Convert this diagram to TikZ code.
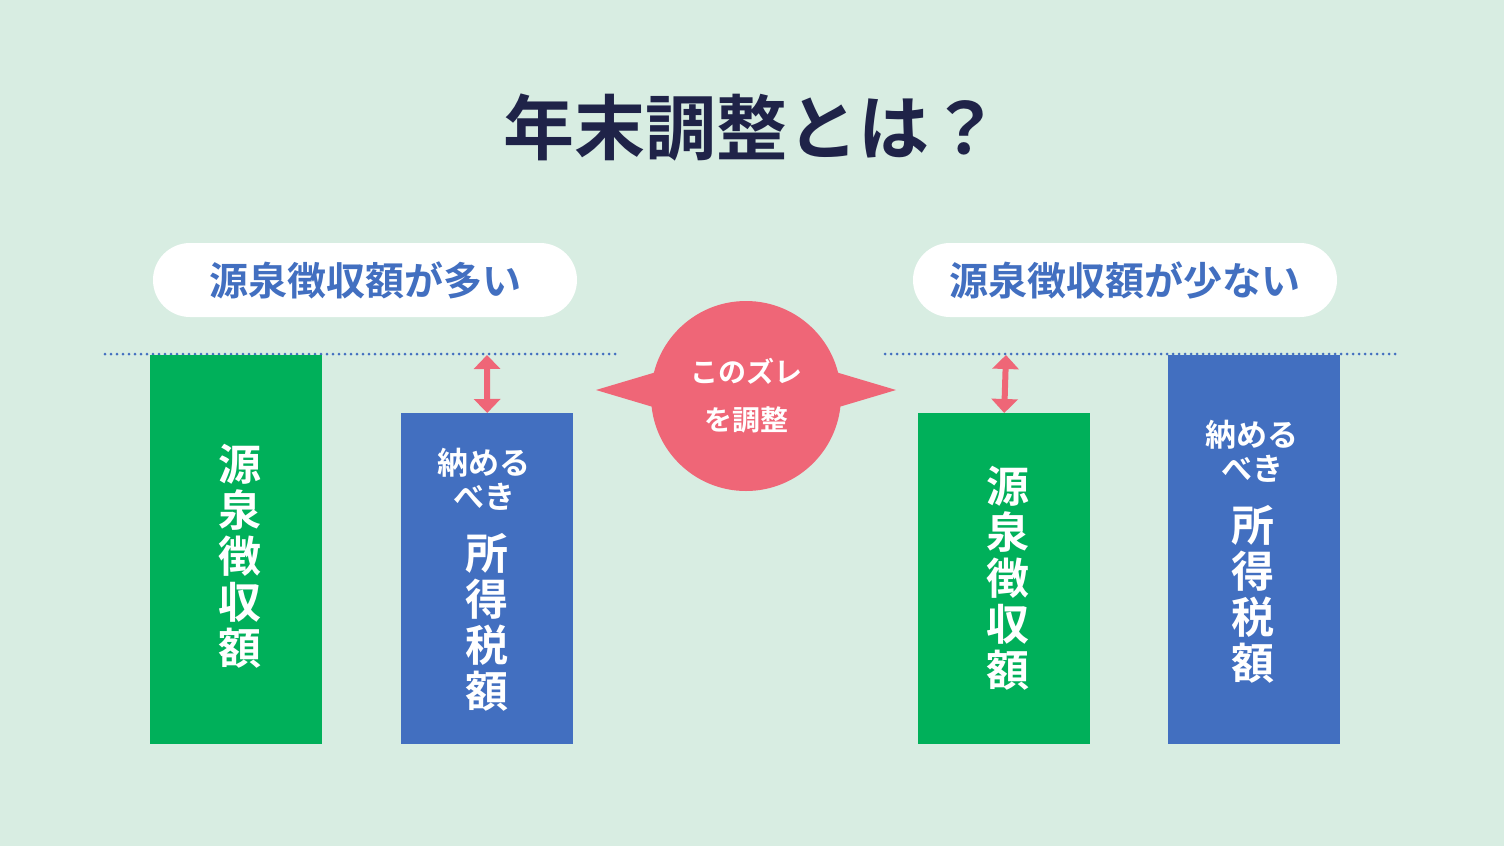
\documentclass[tikz,border=0pt]{standalone}
\usepackage{fontspec}
\setmainfont{Noto Sans CJK JP}[BoldFont={* Bold}]
\usetikzlibrary{arrows.meta}
\definecolor{bgc}{HTML}{D8EDE2}
\definecolor{grn}{HTML}{00B05A}
\definecolor{blu}{HTML}{426FC0}
\definecolor{pnk}{HTML}{EF6677}
\definecolor{navy}{HTML}{1F2348}
\begin{document}
\begin{tikzpicture}[x=1pt,y=-1pt,
  pill/.style={fill=white,rounded corners=37pt,minimum width=424pt,minimum height=74pt,text=blu,font=\bfseries\fontsize{39}{39}\selectfont},
  bar/.style={anchor=north west,minimum width=172pt,inner sep=0pt},
  big/.style={text=white,align=center,font=\bfseries\fontsize{43}{46}\selectfont},
  small/.style={text=white,align=center,font=\bfseries\fontsize{31}{34}\selectfont},
  gap/.style={pnk,line width=6pt,{Triangle[length=14pt,width=26pt]}-{Triangle[length=14pt,width=26pt]}},
  level/.style={blu,line width=3pt,line cap=round,dash pattern=on 0pt off 6pt}]
\fill[bgc] (0,0) rectangle (1504,846);
\useasboundingbox (0,0) rectangle (1504,846);
\node[text=navy,font=\bfseries\fontsize{71}{71}\selectfont] (title) at (752,128) {年末調整とは？};
% left side
\node[pill] (lpill) at (365,280) {源泉徴収額が多い};
\coordinate (l1) at (105,354); \coordinate (l2) at (620,354);
\draw[level] (l1) -- (l2);
\node[bar,fill=grn,minimum height=389pt] (lgreen) at (150,355) {};
\node[bar,fill=blu,minimum height=331pt] (lblue) at (401,413) {};
\node[big] (lgt) at (240,556) {源\\泉\\徴\\収\\額};
\node[small] (lbs) at (484,479) {納める\\べき};
\node[big] (lbt) at (487,622) {所\\得\\税\\額};
\coordinate (la) at (487,355);
\draw[gap] (la) -- (lblue.north);
% right side
\node[pill] (rpill) at (1125,280) {源泉徴収額が少ない};
\coordinate (r1) at (885,354); \coordinate (r2) at (1400,354);
\draw[level] (r1) -- (r2);
\node[bar,fill=grn,minimum height=331pt] (rgreen) at (918,413) {};
\node[bar,fill=blu,minimum height=389pt] (rblue) at (1168,355) {};
\node[big] (rgt) at (1008,578) {源\\泉\\徴\\収\\額};
\node[small] (rbs) at (1252,451) {納める\\べき};
\node[big] (rbt) at (1253,594) {所\\得\\税\\額};
\coordinate (ra) at (1006,355);
\draw[gap] (ra) -- (rgreen.north);
% centre bubble
\fill[pnk] (596,390) -- (680,365) -- (680,415) -- cycle;
\fill[pnk] (896,390) -- (812,365) -- (812,415) -- cycle;
\node[circle,fill=pnk,minimum size=190pt,text=white,align=center,
  font=\bfseries\fontsize{28}{48}\selectfont] (shift) at (746,396) {このズレ\\を調整};
\end{tikzpicture}
\end{document}
